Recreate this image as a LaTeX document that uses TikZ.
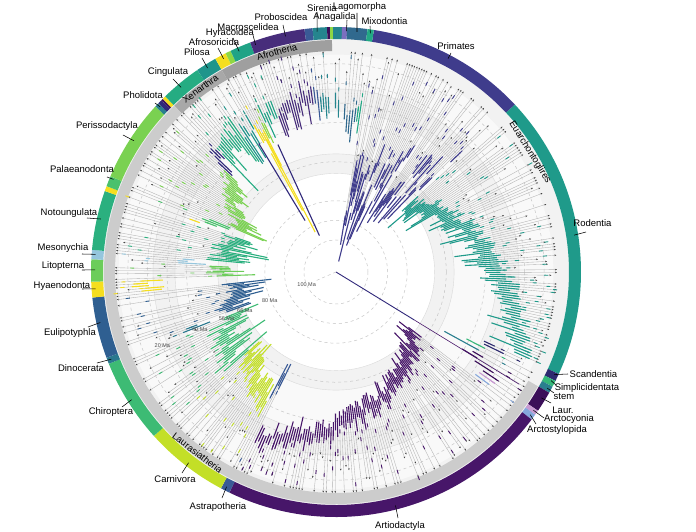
\documentclass[tikz,border=0pt]{standalone}
\usepackage{fontspec}
\setmainfont{Liberation Sans}
\usetikzlibrary{arrows.meta}
\definecolor{cPrim}{HTML}{3F3C8C}
\definecolor{cRod}{HTML}{1F9A8A}
\definecolor{cScan}{HTML}{2D2A6F}
\definecolor{cSimp}{HTML}{35B779}
\definecolor{cStem}{HTML}{2A7F8E}
\definecolor{cLaur}{HTML}{3B0F59}
\definecolor{cArcy}{HTML}{C89BD2}
\definecolor{cArst}{HTML}{86A8DC}
\definecolor{cArt}{HTML}{471669}
\definecolor{cAstr}{HTML}{3A5A96}
\definecolor{cCarn}{HTML}{C3DF27}
\definecolor{cChir}{HTML}{3DBB74}
\definecolor{cDino}{HTML}{2A788E}
\definecolor{cEuli}{HTML}{2F5F91}
\definecolor{cHyae}{HTML}{F5DE1F}
\definecolor{cLito}{HTML}{6CCD5A}
\definecolor{cMeso}{HTML}{95C6DD}
\definecolor{cNoto}{HTML}{2BB07F}
\definecolor{cPala}{HTML}{4AC16D}
\definecolor{cPeri}{HTML}{7AD151}
\definecolor{cPhol}{HTML}{30287A}
\definecolor{cCing}{HTML}{25AC82}
\definecolor{cPilo}{HTML}{1F958B}
\definecolor{cHyra}{HTML}{8FD744}
\definecolor{cMacr}{HTML}{20A386}
\definecolor{cProb}{HTML}{472D7B}
\definecolor{cSire}{HTML}{25858E}
\definecolor{cLago}{HTML}{30698E}
\definecolor{cMixo}{HTML}{22A884}
\definecolor{cAnag}{HTML}{7B6FBF}
\tikzset{
  branch/.style={draw=gray!60, line width=0.35pt, -{Stealth[length=2pt,width=1.6pt,color=gray!50!black]}},
  rangebar/.style={draw=#1, line width=1.1pt},
  fossil/.style={draw=#1, line width=0.9pt},
  ringseg/.style={draw=#1, line width=12pt},
  cladeband/.style={draw=#1, line width=11pt},
  agecircle/.style={draw=gray!45, dash pattern=on 3pt off 3pt, line width=0.5pt},
  epoch/.style={draw=gray!30, line width=0.4pt},
  agelab/.style={font=\fontsize{5.5}{6}\selectfont, text=gray!60!black, inner sep=0.5pt},
  lab/.style={font=\fontsize{9.5}{11}\selectfont, inner sep=0pt},
  leader/.style={draw=black, line width=0.55pt},
  rootline/.style={draw=cPhol, line width=0.9pt}
}
\newcommand{\seg}[3]{\draw[ringseg=#3] (#1:239) arc[start angle=#1, end angle=#2, radius=239];}
\newcommand{\cband}[3]{\draw[cladeband=#3] (#1:226.5) arc[start angle=#1, end angle=#2, radius=226.5];}
\newcommand{\clade}[8]{%
  \foreach \k in {1,...,#3}{%
    \pgfmathsetmacro\ang{#1+(\k-0.5)*(#2-#1)/#3}%
    \pgfmathsetmacro\rn{#5+(#6-#5)*(\k-0.5)/#3+#8*(rnd-0.5)}%
    \pgfmathsetmacro\rt{rnd<0.5 ? 221 : min(221,\rn+20+(200-\rn)*rnd)}%
    \pgfmathsetmacro\rb{max(8,\rn-3-#7*rnd*rnd)}%
    \pgfmathsetmacro\rf{\rn+6+8*rnd}%
    \pgfmathsetmacro\rx{\rn+(\rt-\rn)*rnd}%
    \draw[branch] (\ang:\rn) -- (\ang:\rt);
    \draw[rangebar=#4] (\ang:\rb) -- (\ang:\rf);
    \draw[fossil=#4] (\ang:\rx) -- ++(\ang:4);
  }}
\newcommand{\clab}[5]{%
  \coordinate (#1r) at (#2:241);
  \coordinate (#1e) at (#3);
  \node[lab] (#1) at (#4) {#5};
  \draw[leader] (#1r) -- (#1e);}
\begin{document}
\begin{tikzpicture}[x=1pt,y=1pt]
  \useasboundingbox (-336,-260) rectangle (360,272);
  \pgfmathsetseed{3}
  \coordinate (root) at (0,0);
  \fill[gray!10] (root) circle[radius=233];
  \fill[gray!5] (root) circle[radius=217.4];
  \fill[gray!10] (root) circle[radius=183];
  \fill[gray!5] (root) circle[radius=161];
  \fill[gray!10] (root) circle[radius=118];
  \fill[white] (root) circle[radius=98.6];
  \foreach \r in {98.6,118.1,161,183} \draw[epoch] (root) circle[radius=\r];
  \foreach \r in {32,51.6,71.2,110.3,149.4,169,188.6,208.2} \draw[agecircle] (root) circle[radius=\r];
  \draw[agecircle] (root) -- (203.5:24);

  \seg{81.1}{43.1}{cPrim}
  \seg{43.1}{-24.6}{cRod}
  \seg{-24.6}{-26.4}{cScan}
  \seg{-26.4}{-27.9}{cSimp}
  \seg{-27.9}{-29.5}{cStem}
  \seg{-29.5}{-34.5}{cLaur}
  \seg{-34.5}{-35.6}{cArcy}
  \seg{-35.6}{-37}{cArst}
  \seg{-37}{-115.8}{cArt}
  \seg{244.2}{242}{cAstr}
  \seg{242}{222}{cCarn}
  \seg{222}{202}{cChir}
  \seg{202}{200.5}{cDino}
  \seg{200.5}{186}{cEuli}
  \seg{186}{182.3}{cHyae}
  \seg{182.3}{177}{cLito}
  \seg{177}{174.8}{cMeso}
  \seg{174.8}{160.7}{cNoto}
  \seg{160.7}{159.5}{cHyae}
  \seg{159.5}{157}{cPala}
  \seg{157}{137.5}{cPeri}
  \seg{137.5}{136.5}{cStem}
  \seg{136.5}{135.5}{cPhol}
  \seg{135.5}{135}{cLaur}
  \seg{135}{134.2}{cHyae}
  \seg{134.2}{124.5}{cCing}
  \seg{124.5}{119.5}{cPilo}
  \seg{119.5}{116.8}{cHyae}
  \seg{116.8}{115.5}{cHyra}
  \seg{115.5}{110.5}{cMacr}
  \seg{110.5}{97.4}{cProb}
  \seg{97.4}{95.5}{cAstr}
  \seg{95.5}{92.1}{cSire}
  \seg{92.1}{91.4}{cLaur}
  \seg{91.4}{90.7}{cHyra}
  \seg{90.7}{88.6}{cSire}
  \seg{88.6}{87.4}{cAnag}
  \seg{87.4}{82.6}{cLago}
  \seg{82.6}{81.1}{cMixo}

  \cband{119.5}{91}{gray!75}
  \cband{134.2}{119.5}{gray!68}
  \cband{134.2}{330.5}{gray!40}

  \clade{81}{43.5}{55}{cPrim}{75}{130}{45}{70}
  \clade{43}{-24.5}{90}{cRod}{95}{200}{40}{14}
  \clade{-24.6}{-26.4}{2}{cScan}{170}{175}{20}{10}
  \clade{-26.4}{-27.9}{1}{cSimp}{160}{160}{20}{5}
  \clade{-27.9}{-29.5}{1}{cStem}{150}{150}{30}{5}
  \clade{-29.5}{-34.5}{4}{cLaur}{150}{190}{30}{20}
  \clade{-34.5}{-35.6}{1}{cArcy}{180}{180}{10}{5}
  \clade{-35.6}{-37}{1}{cArst}{180}{180}{10}{5}
  \clade{-37}{-115.8}{100}{cArt}{95}{180}{14}{14}
  \clade{244.2}{242}{3}{cAstr}{110}{130}{50}{10}
  \clade{242}{222}{28}{cCarn}{150}{110}{25}{16}
  \clade{222}{202}{24}{cChir}{140}{115}{45}{20}
  \clade{202}{200.5}{2}{cDino}{150}{150}{20}{10}
  \clade{200.5}{186}{18}{cEuli}{110}{95}{60}{20}
  \clade{186}{182.3}{5}{cHyae}{180}{190}{70}{20}
  \clade{182.3}{177}{7}{cLito}{110}{115}{35}{10}
  \clade{177}{174.8}{3}{cMeso}{150}{150}{20}{10}
  \clade{174.8}{160.7}{18}{cNoto}{110}{100}{40}{20}
  \clade{160.7}{159.5}{1}{cHyae}{150}{150}{30}{5}
  \clade{159.5}{157}{3}{cPala}{130}{130}{20}{10}
  \clade{157}{137.5}{28}{cPeri}{95}{140}{30}{16}
  \clade{137.5}{134.2}{4}{cPhol}{160}{160}{30}{20}
  \clade{134.2}{124.5}{12}{cCing}{150}{175}{45}{20}
  \clade{124.5}{119.5}{6}{cPilo}{160}{160}{40}{20}
  \clade{119.5}{116.8}{4}{cHyae}{150}{150}{60}{20}
  \clade{116.8}{115.5}{2}{cHyra}{160}{160}{30}{10}
  \clade{115.5}{110.5}{6}{cMacr}{165}{165}{30}{20}
  \clade{110.5}{97.4}{16}{cProb}{160}{180}{40}{20}
  \clade{97.4}{95.5}{2}{cAstr}{170}{170}{30}{10}
  \clade{95.5}{92.1}{4}{cSire}{160}{160}{30}{20}
  \clade{90.7}{88.6}{2}{cSire}{170}{170}{30}{10}
  \clade{87.4}{82.6}{5}{cLago}{150}{150}{30}{20}
  \clade{82.6}{81.1}{2}{cMixo}{160}{160}{30}{10}

  \draw[rangebar=cHyae] (117.6:45) -- (117.6:150);
  \draw[rangebar=cHyae] (118.6:70) -- (118.6:135);
  \draw[rangebar=cPhol] (114.5:40) -- (114.5:140);
  \draw[rangebar=cPhol] (121:60) -- (121:150);
  \draw[rootline] (root) -- (-31.5:92);
  \draw[draw=cArt, line width=0.6pt] (-31.5:92) -- (-31.5:215);

  \node[agelab] (a100) at (203.5:32) {100 Ma};
  \node[agelab] (a80) at (203:72) {80 Ma};
  \node[agelab] (a66) at (203:99) {66 Ma};
  \node[agelab] (a56) at (203:119) {56 Ma};
  \node[agelab] (a40) at (203:148) {40 Ma};
  \node[agelab] (a20) at (203:188.6) {20 Ma};

  \node[lab, rotate=15] (afroth) at (105:228) {Afrotheria};
  \node[lab, rotate=36.5] (xenar) at (126.5:228) {Xenarthra};
  \node[lab, rotate=-37.4] (laura) at (232.6:228) {Laurasiatheria};
  \node[lab, rotate=-58.3] (euarch) at (31.7:228) {Euarchontoglires};

  \clab{prim}{62.3}{115,219}{120,226}{Primates}
  \clab{rod}{8.8}{250,40}{256.5,49}{Rodentia}
  \clab{scan}{-25.2}{232,-102}{257.5,-102}{Scandentia}
  \clab{simp}{-26.8}{220,-113}{251,-116}{Simplicidentata}
  \clab{stm}{-28.8}{218,-121}{228,-124}{stem}
  \clab{laur}{-31.5}{215,-131}{227,-138}{Laur.}
  \clab{arcy}{-35}{208,-146}{233,-147}{Arctocyonia}
  \clab{arst}{-36.3}{200,-152}{221,-158}{Arctostylopida}
  \clab{art}{-75.7}{62,-246}{64,-254}{Artiodactyla}
  \clab{astr}{243}{-114,-226}{-118,-235}{Astrapotheria}
  \clab{carn}{232.3}{-154,-201}{-161,-207}{Carnivora}
  \clab{chir}{212}{-214,-135}{-225,-140}{Chiroptera}
  \clab{dino}{201.2}{-239,-91}{-255,-96}{Dinocerata}
  \clab{euli}{192.1}{-248,-55}{-266,-61}{Eulipotyphla}
  \clab{hyae}{184}{-254,-17}{-274,-14}{Hyaenodonta}
  \clab{lito}{179.5}{-254,2}{-273,6}{Litopterna}
  \clab{meso}{175.8}{-254,18}{-273,24}{Mesonychia}
  \clab{noto}{167.3}{-249,54}{-267,59}{Notoungulata}
  \clab{pala}{157.4}{-229,95}{-254,103}{Palaeanodonta}
  \clab{peri}{147}{-213,137}{-229,146}{Perissodactyla}
  \clab{phol}{136.8}{-181,169}{-193,177}{Pholidota}
  \clab{cing}{130}{-163,193}{-168,200}{Cingulata}
  \clab{pilo}{122.2}{-134,214}{-139,220}{Pilosa}
  \clab{afso}{117.8}{-118,224}{-122,230}{Afrosoricida}
  \clab{hyra}{113.7}{-103,234}{-106,239}{Hyracoidea}
  \clab{macr}{109.5}{-83,237}{-88,245}{Macroscelidea}
  \clab{prob}{102.1}{-53,247}{-55,255}{Proboscidea}
  \clab{sire}{94.5}{-19,260}{-14,264}{Sirenia}
  \clab{anag}{87.5}{11,252}{-1.5,255}{Anagalida}
  \clab{lago}{85}{21,259}{23.5,265}{Lagomorpha}
  \clab{mixo}{81.8}{34,246}{48.5,251}{Mixodontia}
\end{tikzpicture}
\end{document}
